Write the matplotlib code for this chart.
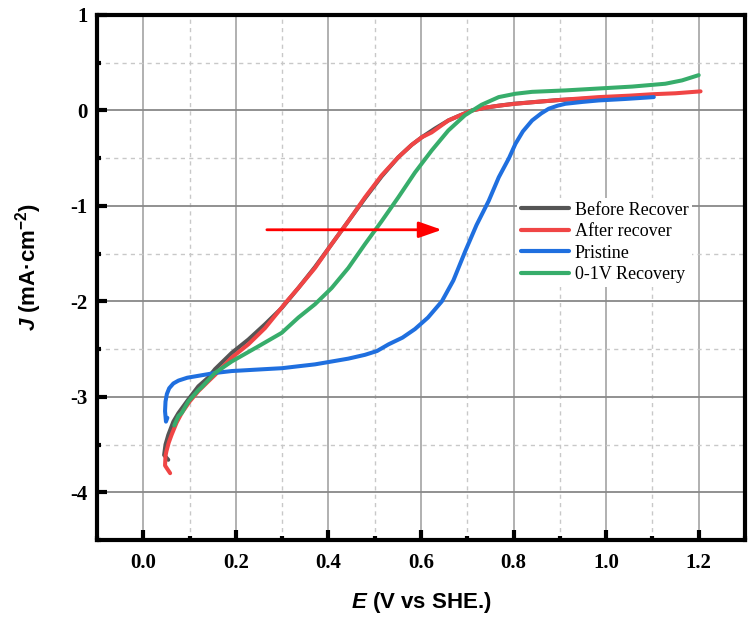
import matplotlib
matplotlib.use("Agg")
import matplotlib.pyplot as plt
from matplotlib.ticker import MultipleLocator

plt.rcParams['axes.unicode_minus'] = False
plt.rcParams['mathtext.fontset'] = 'custom'
plt.rcParams['mathtext.rm'] = 'Liberation Sans:bold'
plt.rcParams['mathtext.bf'] = 'Liberation Sans:bold'
plt.rcParams['mathtext.it'] = 'Liberation Sans:bold:italic'

# ---- data ----
before_E = [0.054, 0.045, 0.048, 0.054, 0.065, 0.076, 0.097, 0.119, 0.140, 0.155, 0.191, 0.227, 0.263,
            0.299, 0.335, 0.371, 0.407, 0.443, 0.479, 0.515, 0.551, 0.580, 0.602, 0.630, 0.659, 0.685,
            0.710, 0.740, 0.768, 0.800, 0.850, 0.900, 0.984, 1.050, 1.100]
before_J = [-3.66, -3.61, -3.50, -3.40, -3.26, -3.17, -3.03, -2.89, -2.80, -2.71, -2.54, -2.40, -2.24,
            -2.07, -1.86, -1.64, -1.40, -1.16, -0.92, -0.69, -0.49, -0.36, -0.28, -0.19, -0.105, -0.05,
            0.0, 0.03, 0.05, 0.07, 0.09, 0.11, 0.13, 0.145, 0.15]

after_E = [0.058, 0.047, 0.048, 0.050, 0.055, 0.061, 0.072, 0.083, 0.100, 0.119, 0.140, 0.155, 0.191,
           0.227, 0.263, 0.310, 0.335, 0.371, 0.407, 0.443, 0.479, 0.515, 0.551, 0.580, 0.602, 0.623,
           0.659, 0.685, 0.710, 0.740, 0.768, 0.804, 0.850, 0.900, 0.984, 1.050, 1.100, 1.150, 1.204]
after_J = [-3.80, -3.72, -3.62, -3.57, -3.48, -3.40, -3.27, -3.17, -3.05, -2.94, -2.84, -2.77, -2.59,
           -2.45, -2.28, -2.00, -1.86, -1.65, -1.40, -1.16, -0.91, -0.68, -0.49, -0.36, -0.28, -0.23,
           -0.105, -0.05, 0.0, 0.03, 0.05, 0.07, 0.09, 0.11, 0.14, 0.155, 0.17, 0.18, 0.20]

pristine_E = [0.052, 0.049, 0.047, 0.048, 0.051, 0.056, 0.065, 0.076, 0.095, 0.119, 0.155, 0.191, 0.227,
              0.263, 0.300, 0.335, 0.371, 0.407, 0.443, 0.479, 0.505, 0.530, 0.560, 0.587, 0.615, 0.645,
              0.670, 0.696, 0.720, 0.746, 0.768, 0.790, 0.804, 0.820, 0.840, 0.860, 0.876, 0.895, 0.912,
              0.950, 0.984, 1.040, 1.103]
pristine_J = [-3.22, -3.26, -3.15, -3.05, -2.97, -2.91, -2.86, -2.83, -2.80, -2.78, -2.75, -2.73, -2.72,
              -2.71, -2.70, -2.68, -2.66, -2.63, -2.60, -2.56, -2.52, -2.45, -2.38, -2.29, -2.17, -2.00,
              -1.78, -1.47, -1.20, -0.95, -0.70, -0.50, -0.35, -0.22, -0.105, -0.03, 0.018, 0.05, 0.07,
              0.09, 0.105, 0.12, 0.14]

recov_E = [0.067, 0.076, 0.083, 0.097, 0.119, 0.126, 0.155, 0.191, 0.249, 0.299, 0.335, 0.371, 0.407,
           0.443, 0.479, 0.515, 0.551, 0.587, 0.623, 0.659, 0.695, 0.731, 0.768, 0.804, 0.840, 0.912,
           0.984, 1.056, 1.128, 1.164, 1.200]
recov_J = [-3.30, -3.20, -3.17, -3.05, -2.93, -2.90, -2.75, -2.63, -2.47, -2.33, -2.17, -2.03, -1.86,
           -1.65, -1.40, -1.16, -0.91, -0.65, -0.42, -0.21, -0.05, 0.06, 0.14, 0.175, 0.195, 0.21,
           0.23, 0.25, 0.28, 0.315, 0.37]

labels = ["Before Recover", "After recover", "Pristine", "0-1V Recovery"]
colors = ["#555555", "#F04545", "#1F6FDF", "#37AD6B"]

x_ticks = [0.0, 0.2, 0.4, 0.6, 0.8, 1.0, 1.2]
x_ticklabels = ["0.0", "0.2", "0.4", "0.6", "0.8", "1.0", "1.2"]

arrow_start = (0.267, -1.25)
arrow_end = (0.645, -1.25)

# ---- figure ----
fig = plt.figure(figsize=(7.49, 6.2), dpi=100)
ax = fig.add_axes([97/749, 1-540/620, (745-97)/749, (540-15)/620])

series = [(before_E, before_J), (after_E, after_J), (pristine_E, pristine_J), (recov_E, recov_J)]
for (E, J), lab, c in zip(series, labels, colors):
    ax.plot(E, J, color=c, lw=2.9, label=lab, solid_capstyle='round', solid_joinstyle='round')

ax.annotate("", xy=arrow_end, xytext=arrow_start,
            arrowprops=dict(arrowstyle="-|>,head_length=1.0,head_width=0.35", color="#FF0000", lw=2,
                            shrinkA=0, shrinkB=0, mutation_scale=14))

ax.set_xlim(-0.1, 1.3)
ax.set_ylim(-4.5, 1.0)
ax.xaxis.set_minor_locator(MultipleLocator(0.1))
ax.yaxis.set_major_locator(MultipleLocator(1))
ax.yaxis.set_minor_locator(MultipleLocator(0.5))
ax.set_xticks(x_ticks)
ax.set_xticklabels(x_ticklabels)

ax.grid(which='major', axis='x', color='#aaaaaa', lw=1.3, ls='-')
ax.grid(which='major', axis='y', color='#888888', lw=1.3, ls='-')
ax.grid(which='minor', color='#c8c8c8', lw=1.0, ls=(0, (3, 3)))
ax.set_axisbelow(True)

for s in ax.spines.values():
    s.set_linewidth(3)

ax.tick_params(which='major', direction='in', length=7, width=3, top=False, right=False)
ax.tick_params(which='minor', direction='in', length=3, width=3, top=False, right=False)
ax.tick_params(axis='x', which='both', pad=9)
ax.tick_params(axis='y', which='both', pad=7)
for lab in ax.get_xticklabels() + ax.get_yticklabels():
    lab.set_fontfamily('Liberation Serif')
    lab.set_fontweight('bold')
    lab.set_fontsize(15)

ax.set_xlabel(r"$\mathit{E}$ (V vs SHE.)", fontsize=16, fontweight='bold', fontfamily='Liberation Sans')
ax.set_ylabel(r"$\mathit{J}$ (mA·cm$^{\mathrm{-2}}$)", fontsize=16, fontweight='bold', fontfamily='Liberation Sans')
ax.xaxis.set_label_coords(0.5, -0.095)
ax.yaxis.set_label_coords(-0.105, 0.52)
ax.xaxis.label.set_va('top')
ax.yaxis.label.set_va('center')

leg = ax.legend(loc='upper left', bbox_to_anchor=((517-97)/648, (540-198)/525),
                prop={'family': 'Liberation Serif', 'size': 13},
                frameon=True, fancybox=False, edgecolor='none', facecolor='white', framealpha=1,
                handlelength=2.7, handletextpad=0.3, labelspacing=0.25, borderpad=0.2,
                borderaxespad=0)
for l in leg.get_lines():
    l.set_linewidth(3)

fig.savefig("out.png", dpi=100)
